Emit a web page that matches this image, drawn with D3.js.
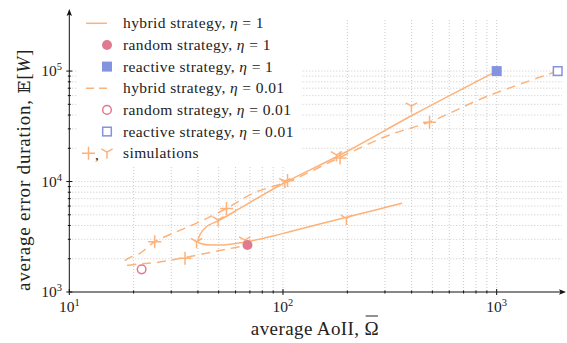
<!DOCTYPE html>
<html><head><meta charset="utf-8">
<script src="https://cdn.jsdelivr.net/npm/d3@7"></script>
<style>body{margin:0;background:#fff}text{font-family:"Liberation Serif","Times New Roman",serif;fill:#222}</style>
</head><body><svg id="c" width="567" height="343"></svg>
<script>
// ---- data ----
const hybridEta1 = [[1000,100000],[405,40000],[198,18600],[103.8,9960],[77.8,7280],[62.8,5710],[50.6,4487],[43.8,3900],[40.8,3280],[40.1,2850],[40.8,2760],[50.6,2660],[67.5,2850],[89.8,3210],[107.4,3515],[138,3980],[198,4750],[283,5650],[361,6350]];
const hybridEta001 = [[1930,100000],[891,58500],[485,34600],[315,26400],[178,16000],[110,10300],[72.4,7820],[54.4,5710],[40.8,4330],[31.8,3515],[25.1,2850],[21.4,2240],[18.9,2020],[18.1,1880],[18.5,1755],[21.4,1800],[25.1,1842],[34.8,2050],[50.6,2375],[62.8,2570],[70,2650]];
const randomEta1 = [[68.2,2660]];
const randomEta001 = [[21.8,1603]];
const reactiveEta1 = [[1000,100000]];
const reactiveEta001 = [[1930,100000]];
const simPlus = [[485,34500],[185,16300],[105,10200],[54.4,5710],[25.1,2850],[34.8,2020]];
const simTri = [[399,48200],[178,17400],[102,9960],[49.7,4487],[39.4,2850],[66.2,2950],[198,4640]];
const xMajor = [10,100,1000];
const yMajor = [1000,10000,100000];
const xTickLabels = ["1","2","3"];
const yTickLabels = ["3","4","5"];
const legendLabels = [
  ["hybrid strategy, ","η"," = 1"],
  ["random strategy, ","η"," = 1"],
  ["reactive strategy, ","η"," = 1"],
  ["hybrid strategy, ","η"," = 0.01"],
  ["random strategy, ","η"," = 0.01"],
  ["reactive strategy, ","η"," = 0.01"],
  ["simulations","",""]
];

const ORANGE = "#fdb27a", PINK = "#e07a90", BLUE = "#8592e0";
const svg = d3.select("#c");
svg.append("rect").attr("width",567).attr("height",343).attr("fill","#fff");

const x = d3.scaleLog().domain([10,2000]).range([69.3,561]);
const y = d3.scaleLog().domain([1000,290000]).range([292,20]);

// grid
const minorsX = [], minorsY = [];
xMajor.slice(0,2).forEach(d=>{for(let m=1;m<=9;m++) minorsX.push(d*m);}); minorsX.push(1000);
yMajor.slice(0,2).forEach(d=>{for(let m=1;m<=9;m++) minorsY.push(d*m);}); minorsY.push(100000);
const g = svg.append("g");
g.selectAll(".vg").data(minorsX.filter(v=>v>10)).join("line")
  .attr("x1",d=>x(d)).attr("x2",d=>x(d)).attr("y1",20).attr("y2",292)
  .attr("stroke","#bdbdbd").attr("stroke-width",0.8).attr("stroke-dasharray","1,2");
g.selectAll(".hg").data(minorsY.filter(v=>v>1000)).join("line")
  .attr("y1",d=>y(d)).attr("y2",d=>y(d)).attr("x1",69.3).attr("x2",562)
  .attr("stroke","#bdbdbd").attr("stroke-width",0.8).attr("stroke-dasharray","1,2");

// curves
const line = d3.line().x(d=>x(d[0])).y(d=>y(d[1])).curve(d3.curveCatmullRom.alpha(0.5));
svg.append("path").attr("d",line(hybridEta1)).attr("fill","none").attr("stroke",ORANGE).attr("stroke-width",1.5);
svg.append("path").attr("d",line(hybridEta001)).attr("fill","none").attr("stroke",ORANGE).attr("stroke-width",1.5).attr("stroke-dasharray","9,6");

// simulation markers
const plusPath = "M-6.5,0H6.5M0,-6.5V6.5";
const triPath = "M0,0V6.5M0,0L-5.6,-3.3M0,0L5.6,-3.3";
svg.selectAll(".sp").data(simPlus).join("path").attr("d",plusPath)
  .attr("transform",d=>`translate(${x(d[0])},${y(d[1])})`).attr("stroke",ORANGE).attr("stroke-width",1.5).attr("fill","none");
svg.selectAll(".st").data(simTri).join("path").attr("d",triPath)
  .attr("transform",d=>`translate(${x(d[0])},${y(d[1])})`).attr("stroke",ORANGE).attr("stroke-width",1.5).attr("fill","none");

// strategy markers
svg.selectAll(".r1").data(randomEta1).join("circle").attr("cx",d=>x(d[0])).attr("cy",d=>y(d[1])).attr("r",5).attr("fill",PINK);
svg.selectAll(".r2").data(randomEta001).join("circle").attr("cx",d=>x(d[0])).attr("cy",d=>y(d[1])).attr("r",4.3).attr("fill","#fff").attr("stroke",PINK).attr("stroke-width",1.5);
svg.selectAll(".q1").data(reactiveEta1).join("rect").attr("x",d=>x(d[0])-5).attr("y",d=>y(d[1])-5).attr("width",10).attr("height",10).attr("fill",BLUE);
svg.selectAll(".q2").data(reactiveEta001).join("rect").attr("x",d=>x(d[0])-4.3).attr("y",d=>y(d[1])-4.3).attr("width",8.6).attr("height",8.6).attr("fill","#fff").attr("stroke",BLUE).attr("stroke-width",1.5);

// legend
const lg = svg.append("g");
lg.append("rect").attr("x",77).attr("y",9).attr("width",224).attr("height",158).attr("fill","#fff");
const rowY = i => 23.3 + i*21.65;
lg.append("line").attr("x1",86).attr("x2",107).attr("y1",rowY(0)).attr("y2",rowY(0)).attr("stroke",ORANGE).attr("stroke-width",1.5);
lg.append("circle").attr("cx",107).attr("cy",rowY(1)).attr("r",5).attr("fill",PINK);
lg.append("rect").attr("x",102).attr("y",rowY(2)-5).attr("width",10).attr("height",10).attr("fill",BLUE);
lg.append("line").attr("x1",86).attr("x2",107).attr("y1",rowY(3)).attr("y2",rowY(3)).attr("stroke",ORANGE).attr("stroke-width",1.5).attr("stroke-dasharray","8,5");
lg.append("circle").attr("cx",107).attr("cy",rowY(4)).attr("r",4.3).attr("fill","#fff").attr("stroke",PINK).attr("stroke-width",1.5);
lg.append("rect").attr("x",102.7).attr("y",rowY(5)-4.3).attr("width",8.6).attr("height",8.6).attr("fill","#fff").attr("stroke",BLUE).attr("stroke-width",1.5);
lg.append("path").attr("d",plusPath).attr("transform",`translate(88.5,${rowY(6)})`).attr("stroke",ORANGE).attr("stroke-width",1.5).attr("fill","none");
lg.append("text").attr("x",95).attr("y",rowY(6)+7).attr("font-size",15).text(",");
lg.append("path").attr("d",triPath).attr("transform",`translate(107,${rowY(6)-1})`).attr("stroke",ORANGE).attr("stroke-width",1.5).attr("fill","none");
legendLabels.forEach((parts,i)=>{
  const t = lg.append("text").attr("x",123).attr("y",rowY(i)+5).attr("font-size",15.5).attr("letter-spacing",0.4);
  t.append("tspan").text(parts[0]);
  if(parts[1]) t.append("tspan").attr("font-style","italic").text(parts[1]);
  if(parts[2]) t.append("tspan").text(parts[2]);
});

// axes
const ax = svg.append("g").attr("stroke","#111").attr("stroke-width",1);
ax.append("line").attr("x1",69.3).attr("x2",561).attr("y1",292).attr("y2",292);
ax.append("line").attr("x1",69.3).attr("x2",69.3).attr("y1",292).attr("y2",13);
svg.append("path").attr("d","M566,292L559,289.3L560.5,292L559,294.7Z").attr("fill","#111");
svg.append("path").attr("d","M69.3,9L66.6,16L69.3,14.5L72,16Z").attr("fill","#111");
ax.selectAll(".xt").data(minorsX).join("line").attr("x1",d=>x(d)).attr("x2",d=>x(d))
  .attr("y1",d=>xMajor.includes(d)?289:290.5).attr("y2",d=>xMajor.includes(d)?295:293.5);
ax.selectAll(".yt").data(minorsY).join("line").attr("y1",d=>y(d)).attr("y2",d=>y(d))
  .attr("x1",d=>yMajor.includes(d)?66.3:67.8).attr("x2",d=>yMajor.includes(d)?72.3:70.8);

// tick labels
xMajor.forEach((v,i)=>{
  const t = svg.append("text").attr("x",x(v)).attr("y",312).attr("text-anchor","middle").attr("font-size",15.5);
  t.append("tspan").text("10");
  t.append("tspan").attr("font-size",10.5).attr("dy",-6).text(xTickLabels[i]);
});
yMajor.forEach((v,i)=>{
  const t = svg.append("text").attr("x",62).attr("y",y(v)+5).attr("text-anchor","end").attr("font-size",15.5);
  t.append("tspan").text("10");
  t.append("tspan").attr("font-size",10.5).attr("dy",-6).text(yTickLabels[i]);
});

// axis titles
const xl = svg.append("text").attr("x",315).attr("y",335).attr("text-anchor","middle").attr("font-size",19).attr("letter-spacing",0.4);
xl.append("tspan").text("average AoII, ");
xl.append("tspan").text("Ω");
const n = xl.text().length;
const s = xl.node().getStartPositionOfChar(n-1), e = xl.node().getEndPositionOfChar(n-1);
svg.append("line").attr("x1",s.x+1).attr("x2",e.x-1.2).attr("y1",316).attr("y2",316).attr("stroke","#222").attr("stroke-width",1);

const yl = svg.append("text").attr("transform","translate(30,170) rotate(-90)").attr("text-anchor","middle").attr("font-size",19).attr("letter-spacing",0.8);
yl.append("tspan").text("average error duration, ");
yl.append("tspan").style("font-family","'DejaVu Serif','DejaVu Sans',serif").attr("font-size",17).text("𝔼");
yl.append("tspan").text("[");
yl.append("tspan").attr("font-style","italic").text("W");
yl.append("tspan").text("]");
</script></body></html>
